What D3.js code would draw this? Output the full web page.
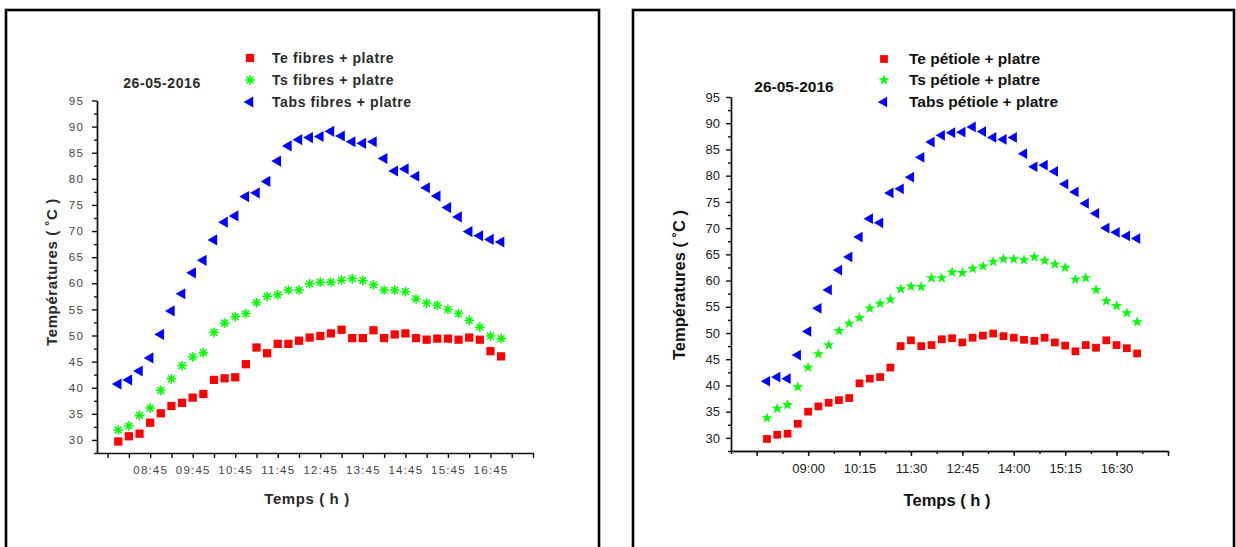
<!DOCTYPE html>
<html>
<head>
<meta charset="utf-8">
<script src="https://cdn.jsdelivr.net/npm/d3@7"></script>
<style>
  body { margin: 0; background: #fff; }
  svg { display: block; font-family: "Liberation Sans", Arial, sans-serif; }
</style>
</head>
<body>
<svg id="chart" width="1236" height="547"></svg>
<script>
// sampling times (every 15 min)
var times = ["08:00","08:15","08:30","08:45","09:00","09:15","09:30","09:45","10:00","10:15",
  "10:30","10:45","11:00","11:15","11:30","11:45","12:00","12:15","12:30","12:45",
  "13:00","13:15","13:30","13:45","14:00","14:15","14:30","14:45","15:00","15:15",
  "15:30","15:45","16:00","16:15","16:30","16:45","17:00"]

// left panel : fibres + platre
var teFibres = [29.7,30.7,31.2,33.3,35.1,36.5,37.1,38.1,38.8,41.5,41.8,42.0,44.5,47.7,46.6,48.4,48.4,49.0,49.6,49.9,
  50.4,51.1,49.5,49.5,51.0,49.5,50.2,50.4,49.5,49.2,49.4,49.4,49.2,49.6,49.2,47.0,46.0]
var tsFibres = [31.9,32.7,34.7,36.1,39.5,41.7,44.2,45.9,46.7,50.6,52.4,53.6,54.2,56.3,57.5,57.8,58.7,58.7,59.9,60.2,
  60.2,60.6,60.9,60.5,59.7,58.7,58.7,58.4,57.0,56.2,55.8,55.0,54.2,52.9,51.6,49.9,49.4]
var tabsFibres = [40.7,41.5,43.2,45.7,50.2,54.7,58.0,62.0,64.4,68.3,71.7,72.9,76.6,77.3,79.5,83.4,86.3,87.5,87.9,88.1,
  89.1,88.2,87.1,86.8,87.1,83.9,81.5,81.9,80.5,78.3,76.7,74.5,72.7,69.9,69.1,68.4,67.9]

// right panel : pétiole + platre
var tePetiole = [29.8,30.6,30.8,32.7,35.0,36.0,36.7,37.2,37.6,40.4,41.3,41.6,43.4,47.5,48.6,47.5,47.7,48.8,49.0,48.2,
  49.1,49.5,49.9,49.4,49.1,48.7,48.5,49.1,48.2,47.6,46.5,47.7,47.2,48.6,47.7,47.1,46.1]
var tsPetiole = [33.8,35.6,36.3,39.7,43.4,46.0,47.7,50.4,51.8,52.9,54.7,55.6,56.4,58.4,58.9,58.8,60.5,60.5,61.6,61.5,
  62.3,62.7,63.6,64.1,64.1,63.9,64.5,63.8,63.1,62.5,60.2,60.5,58.2,56.1,55.2,53.8,52.1]
var tabsPetiole = [40.8,41.6,41.3,45.8,50.3,54.7,58.2,62.0,64.5,68.3,71.8,71.0,76.7,77.5,79.7,83.5,86.4,87.7,88.2,88.3,
  89.3,88.4,87.3,86.9,87.3,84.2,81.7,82.0,80.8,78.4,76.9,74.7,72.8,70.0,69.2,68.5,68.0]

var leftTickLabels = ["08:45","09:45","10:45","11:45","12:45","13:45","14:45","15:45","16:45"]
var rightTickLabels = ["09:00","10:15","11:30","12:45","14:00","15:15","16:30"]
var yTickLabels = [30,35,40,45,50,55,60,65,70,75,80,85,90,95]

var dateLabel = "26-05-2016"

function toMin(s) { var p = s.split(":"); return +p[0] * 60 + +p[1] }
function fmt(m) { var h = Math.floor(m / 60), mm = Math.round(m % 60); return (h < 10 ? "0" : "") + h + ":" + (mm < 10 ? "0" : "") + mm }

// 8 branch asterisk used by the left panel
function asteriskPath(r) {
  var d = r * Math.SQRT1_2
  return "M" + (-r) + ",0L" + r + ",0M0," + (-r) + "L0," + r +
    "M" + (-d) + "," + (-d) + "L" + d + "," + d + "M" + (-d) + "," + d + "L" + d + "," + (-d)
}

var svg = d3.select("#chart")

function drawPanel(p) {
  var g = svg.append("g")

  g.append("rect")
    .attr("x", p.box[0]).attr("y", p.box[1])
    .attr("width", p.box[2]).attr("height", p.box[3])
    .attr("fill", "none").attr("stroke", "#000").attr("stroke-width", 2.6)

  var x = d3.scaleLinear().domain(p.xDomain).range(p.xRange)
  var y = d3.scaleLinear().domain([27.5, 95]).range(p.yRange)

  var tickFont = function (sel) {
    sel.selectAll("text")
      .style("font-size", p.tickSize + "px")
      .style("letter-spacing", p.tickSpacing + "px")
      .attr("fill", p.tickColor)
    sel.selectAll("path, line").attr("stroke", "#111").attr("stroke-width", 1.4)
  }

  // y axis
  g.append("g").attr("transform", "translate(" + p.xRange[0] + ",0)")
    .call(d3.axisLeft(y).tickValues(d3.range(27.5, 95, 5)).tickSize(3).tickSizeOuter(0).tickFormat(""))
    .call(tickFont)
  g.append("g").attr("transform", "translate(" + p.xRange[0] + ",0)")
    .call(d3.axisLeft(y).tickValues(yTickLabels).tickSize(5).tickPadding(p.yPad).tickSizeOuter(0))
    .call(tickFont)

  // x axis
  if (p.xMinor) {
    g.append("g").attr("transform", "translate(0," + p.yRange[0] + ")")
      .call(d3.axisBottom(x).tickValues(p.xMinor).tickSize(3).tickSizeOuter(0).tickFormat(""))
      .call(tickFont)
  }
  g.append("g").attr("transform", "translate(0," + p.yRange[0] + ")")
    .call(d3.axisBottom(x).tickValues(p.xMajor).tickSize(5).tickPadding(8).tickSizeOuter(0)
      .tickFormat(function (m) { return p.xLabels.indexOf(fmt(m)) >= 0 ? fmt(m) : "" }))
    .call(tickFont)

  // series
  var triangle = d3.symbol().type(d3.symbolTriangle).size(p.triSize)
  var square = d3.symbol().type(d3.symbolSquare).size(p.sqSize)
  var star = d3.symbol().type(d3.symbolStar).size(38)

  function greenMark(sel) {
    if (p.star) {
      sel.append("path").attr("d", star()).attr("fill", "#00ff00")
    } else {
      sel.append("path").attr("d", asteriskPath(4.8)).attr("fill", "none")
        .attr("stroke", "#00ff00").attr("stroke-width", 1.5)
    }
  }

  var rows = times.map(function (t, i) {
    return { t: toMin(t), te: p.te[i], ts: p.ts[i], tabs: p.tabs[i] }
  })

  g.append("g").selectAll("path").data(rows).enter().append("path")
    .attr("transform", function (d) { return "translate(" + x(d.t) + "," + y(d.tabs) + ") rotate(-90)" })
    .attr("d", triangle()).attr("fill", "#0000ff")

  g.append("g").selectAll("g").data(rows).enter().append("g")
    .attr("transform", function (d) { return "translate(" + x(d.t) + "," + y(d.ts) + ")" })
    .call(greenMark)

  g.append("g").selectAll("path").data(rows).enter().append("path")
    .attr("transform", function (d) { return "translate(" + x(d.t) + "," + y(d.te) + ")" })
    .attr("d", square()).attr("fill", "#ff0000")

  // legend
  var lg = g.append("g")
  p.legend.forEach(function (txt, i) {
    var ly = p.legendY[i]
    var m = lg.append("g").attr("transform", "translate(" + p.legendX + "," + ly + ")")
    if (i == 0) m.append("path").attr("d", square()).attr("fill", "#ff0000")
    if (i == 1) m.call(greenMark)
    if (i == 2) m.append("path").attr("d", triangle()).attr("fill", "#0000ff").attr("transform", "rotate(-90)")
    lg.append("text").attr("x", p.legendTextX).attr("y", ly + 5)
      .attr("fill", p.textColor).style("font-weight", "bold")
      .style("font-size", p.legendSize + "px").style("letter-spacing", p.textSpacing + "px")
      .text(txt)
  })

  // date
  g.append("text").attr("x", p.dateX).attr("y", p.dateY).attr("text-anchor", "middle")
    .attr("fill", p.textColor).style("font-weight", "bold")
    .style("font-size", p.legendSize + "px").style("letter-spacing", p.textSpacing + "px")
    .text(dateLabel)

  // axis titles
  g.append("text").attr("x", p.xTitle[0]).attr("y", p.xTitle[1]).attr("text-anchor", "middle")
    .attr("fill", p.textColor).style("font-weight", "bold")
    .style("font-size", p.titleSize + "px").style("letter-spacing", p.textSpacing + "px")
    .text("Temps ( h )")
  g.append("text").attr("transform", "translate(" + p.yTitle[0] + "," + p.yTitle[1] + ") rotate(-90)")
    .attr("text-anchor", "middle")
    .attr("fill", p.textColor).style("font-weight", "bold")
    .style("font-size", p.titleSize + "px").style("letter-spacing", p.textSpacing + "px")
    .text("Températures ( ˚C )")
}

drawPanel({
  box: [6, 10, 593, 560],
  xDomain: [toMin("07:30"), toMin("17:45")], xRange: [97, 533],
  yRange: [453, 100.5],
  xMajor: d3.range(toMin("07:45"), toMin("17:45") + 1, 30), xMinor: null,
  xLabels: leftTickLabels,
  te: teFibres, ts: tsFibres, tabs: tabsFibres, star: false,
  sqSize: 68, triSize: 54,
  tickSize: 11.5, tickSpacing: 1.2, tickColor: "#444", yPad: 8,
  textColor: "#2a2a2a", textSpacing: 0.6, legendSize: 14, titleSize: 15,
  legend: ["Te fibres + platre", "Ts fibres + platre", "Tabs fibres + platre"],
  legendX: 250, legendTextX: 272, legendY: [58, 80, 102],
  dateX: 162, dateY: 88,
  xTitle: [307, 504], yTitle: [57, 272]
})

drawPanel({
  box: [633, 10, 601, 560],
  xDomain: [427.5, toMin("17:45")], xRange: [731, 1168],
  yRange: [451, 97],
  xMajor: d3.range(toMin("07:45"), toMin("17:45") + 1, 75),
  xMinor: d3.range(427.5, toMin("17:45") + 1, 37.5),
  xLabels: rightTickLabels,
  te: tePetiole, ts: tsPetiole, tabs: tabsPetiole, star: true,
  sqSize: 60, triSize: 50,
  tickSize: 13, tickSpacing: 0, tickColor: "#222", yPad: 6,
  textColor: "#111", textSpacing: 0, legendSize: 15.5, titleSize: 16.5,
  legend: ["Te pétiole + platre", "Ts pétiole + platre", "Tabs pétiole + platre"],
  legendX: 884, legendTextX: 909, legendY: [59, 80, 102],
  dateX: 794, dateY: 92,
  xTitle: [947, 506], yTitle: [685, 285]
})
</script>
</body>
</html>
